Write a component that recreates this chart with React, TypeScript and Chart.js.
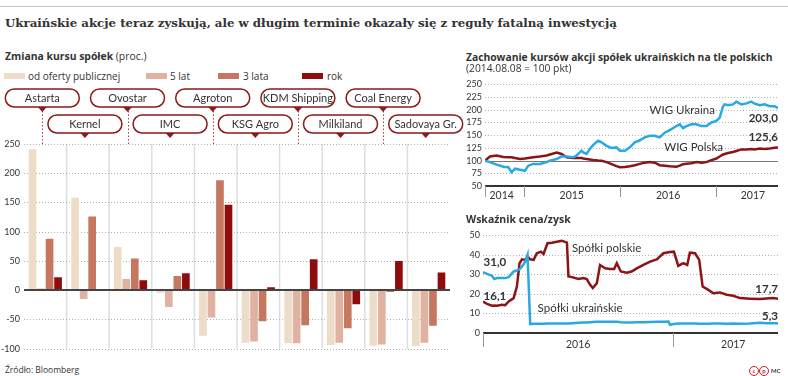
import React, { useEffect, useRef } from 'react';
import { Chart, registerables } from 'chart.js';

Chart.register(...registerables);

// ---------------- data ----------------
const companies = ['Astarta', 'Kernel', 'Ovostar', 'IMC', 'Agroton', 'KSG Agro', 'KDM Shipping', 'Milkiland', 'Coal Energy', 'Sadovaya Gr.'];
const seriesNames = ['od oferty publicznej', '5 lat', '3 lata', 'rok'];
const sinceIpo = [241, 158, 74, -5, -78, -90, -91, -94, -95, -96];
const fiveYears = [3, -15, 19, -29, -47, -88, -91, -90, -93, -90];
const threeYears = [88, 126, 54, 24, 188, -53, -60, -65, -3, -61];
const oneYear = [22, 1, 17, 29, 146, 5, 53, -24, 50, 30];
const barTicks = [250, 200, 150, 100, 50, 0, -50, -100];

const wigDates = [
  2014.600, 2014.652, 2014.721, 2014.790, 2014.842, 2014.876, 2014.911, 2014.963, 2015.015, 2015.049,
  2015.101, 2015.170, 2015.239, 2015.274, 2015.343, 2015.394, 2015.446, 2015.515, 2015.550, 2015.602,
  2015.619, 2015.654, 2015.688, 2015.723, 2015.774, 2015.809, 2015.861, 2015.913, 2015.964, 2015.999,
  2016.051, 2016.103, 2016.154, 2016.206, 2016.258, 2016.310, 2016.362, 2016.413, 2016.465, 2016.517,
  2016.586, 2016.621, 2016.655, 2016.690, 2016.742, 2016.793, 2016.845, 2016.897, 2016.949, 2017.001,
  2017.035, 2017.070, 2017.087, 2017.122, 2017.173, 2017.208, 2017.260, 2017.312, 2017.363, 2017.398,
  2017.450, 2017.502, 2017.553, 2017.605, 2017.640,
];
const wigUkraina = [
  100, 97, 92, 88, 87, 77, 84, 82, 80, 90,
  93.5, 93.5, 97, 100, 103, 108, 108, 106.5, 110, 119.5,
  116, 113, 123, 131, 139, 136, 129, 125, 126, 119.5,
  119.5, 126, 136, 140, 145.6, 149, 149, 145.6, 155, 160,
  168, 171.6, 164, 168, 171.6, 171.6, 168, 168, 175, 178,
  184.6, 207, 210.7, 209, 210.7, 216, 210.7, 212.6, 216, 212,
  209, 210.7, 207, 207, 203,
];
const wigPolska = [
  100, 108, 110, 107, 106.5, 106.5, 105, 103, 104, 105,
  106.5, 108, 110, 112, 116, 113, 106.5, 105, 105, 105,
  104, 103, 102, 101, 100, 99.5, 97, 93, 89, 87,
  87.5, 89, 91, 93.5, 96, 97, 96, 91, 90, 89,
  88, 90, 93, 94, 95, 97, 96, 97, 101, 104,
  108, 112, 113, 115, 117, 119, 122, 122, 123, 122,
  124, 123, 124, 125.5, 125.6,
];
const wigTicks = [50, 75, 100, 125, 150, 175, 200, 225, 250];
const wigYearBounds = [2014.6, 2015, 2016, 2017];
const wigYearLabels = ['2014', '2015', '2016', '2017'];
const wigYearLabelPos = [2014.773, 2015.5, 2016.5, 2017.38];

const peDates = [
  2016.000, 2016.021, 2016.047, 2016.059, 2016.073, 2016.100, 2016.117, 2016.135, 2016.161, 2016.178,
  2016.192, 2016.205, 2016.222, 2016.234, 2016.248, 2016.266, 2016.283, 2016.304, 2016.318, 2016.339,
  2016.362, 2016.388, 2016.414, 2016.441, 2016.449, 2016.467, 2016.502, 2016.528, 2016.545, 2016.563,
  2016.577, 2016.598, 2016.615, 2016.642, 2016.668, 2016.689, 2016.703, 2016.724, 2016.755, 2016.781,
  2016.808, 2016.843, 2016.878, 2016.913, 2016.948, 2016.974, 2016.983, 2017.003, 2017.026, 2017.052,
  2017.073, 2017.087, 2017.114, 2017.136, 2017.154, 2017.184, 2017.210, 2017.245, 2017.280, 2017.315,
  2017.350, 2017.402, 2017.455, 2017.490, 2017.524, 2017.551,
];
const peUkrainskie = [
  31.0, 30.2, 29.2, 27.5, 28, 28, 28, 28.5, 31.4, 31.9,
  32.5, 33.9, 36.4, 39.8, 4.5, 4.7, 4.7, 4.7, 4.7, 4.8,
  4.8, 4.8, 4.9, 4.9, 4.9, 5.0, 5.2, 5.3, 5.4, 5.5,
  5.6, 5.7, 5.8, 5.8, 5.7, 5.7, 5.8, 5.5, 5.4, 5.4,
  5.5, 5.5, 5.6, 5.7, 5.8, 5.9, 4.2, 4.6, 4.8, 4.8,
  4.8, 4.8, 4.8, 4.7, 4.7, 4.7, 4.8, 4.8, 4.7, 4.8,
  4.7, 4.8, 5.2, 5.0, 5.0, 5.0,
];
const pePolskie = [
  16.0, 14.9, 13.9, 14.0, 13.9, 14.4, 14.2, 16.1, 17.8, 23.7,
  35.6, 37.6, 37.3, 39, 37.6, 37.3, 40.7, 41.5, 40.3, 45.8,
  46.1, 46.6, 47.1, 46.1, 28.8, 28.5, 27.6, 28, 27.5, 24.6,
  22.9, 25.4, 34.7, 33, 32.7, 32.7, 35.6, 31.4, 30.8, 31.4,
  33, 34.7, 36.4, 37.6, 40.7, 41.2, 41.3, 41.5, 34.2, 35.6,
  34.7, 41, 40.7, 37.3, 23.7, 22, 20.3, 20.7, 19.5, 19,
  17.8, 17.5, 17.3, 17.6, 17.8, 17.5,
];
const peTicks = [0, 10, 20, 30, 40, 50];
const peYearBounds = [2016, 2017];
const peYearLabels = ['2016', '2017'];
const peYearLabelPos = [2016.5, 2017.315];

// ---------------- styles ----------------
const SANS = 'Lato, "Open Sans", sans-serif';
const TEXT = '"Open Sans", Lato, sans-serif';
const INK = '#333333';
const BAR_COLORS = ['#eddcc8', '#dfb2a1', '#c5775f', '#8e0c0c'];
const BLUE = '#2aa9e0';
const RED = '#8b1515';
const CALLOUT = '#8b1a1a';

const pts = (xs: number[], ys: number[]) => xs.map((x, i) => ({ x, y: ys[i] }));

const barDecor = {
  id: 'barDecor',
  beforeDatasetsDraw(chart: any) {
    const { ctx, chartArea: a, scales } = chart;
    const x = scales.x, y = scales.y;
    ctx.save();
    ctx.strokeStyle = '#dedede';
    ctx.lineWidth = 1.5;
    for (let i = 0; i < companies.length - 1; i++) {
      const px = (x.getPixelForValue(i) + x.getPixelForValue(i + 1)) / 2;
      ctx.beginPath();
      ctx.moveTo(px, a.top);
      ctx.lineTo(px, a.bottom);
      ctx.stroke();
    }
    ctx.strokeStyle = '#b0b0b0';
    ctx.lineWidth = 1;
    ctx.setLineDash([1, 2]);
    barTicks.filter((v) => v !== 0).forEach((v) => {
      const py = Math.round(y.getPixelForValue(v)) + 0.5;
      ctx.beginPath();
      ctx.moveTo(a.left, py);
      ctx.lineTo(a.right, py);
      ctx.stroke();
    });
    ctx.restore();
  },
  afterDatasetsDraw(chart: any) {
    const { ctx, chartArea: a, scales } = chart;
    const x = scales.x, y = scales.y;
    ctx.save();
    const zy = Math.round(y.getPixelForValue(0));
    ctx.strokeStyle = '#444';
    ctx.lineWidth = 2;
    ctx.beginPath();
    ctx.moveTo(a.left, zy);
    ctx.lineTo(a.right, zy);
    ctx.stroke();

    const boxW = 74, boxH = 18;
    companies.forEach((name, i) => {
      const cx = x.getPixelForValue(i) - 3;
      const row = i % 2;
      const top = a.top - (row === 0 ? 55 : 29);
      const bottom = top + boxH;
      if (row === 0) {
        ctx.setLineDash([1.5, 2]);
        ctx.strokeStyle = '#b04040';
        ctx.lineWidth = 1;
        ctx.beginPath();
        ctx.moveTo(Math.round(cx) + 0.5, bottom + 4);
        ctx.lineTo(Math.round(cx) + 0.5, a.top);
        ctx.stroke();
      }
      ctx.setLineDash([]);
      ctx.fillStyle = '#fff';
      ctx.strokeStyle = CALLOUT;
      ctx.lineWidth = 1.5;
      ctx.beginPath();
      ctx.roundRect(cx - boxW / 2, top, boxW, boxH, 9);
      ctx.fill();
      ctx.stroke();
      ctx.fillStyle = CALLOUT;
      ctx.beginPath();
      ctx.moveTo(cx - 4.5, bottom);
      ctx.lineTo(cx + 4.5, bottom);
      ctx.lineTo(cx, bottom + 5);
      ctx.closePath();
      ctx.fill();
      ctx.fillStyle = INK;
      ctx.font = `11px ${SANS}`;
      ctx.textAlign = 'center';
      ctx.textBaseline = 'middle';
      ctx.fillText(name, cx, top + boxH / 2 + 0.5);
    });
    ctx.restore();
  },
};

function lineDecor(
  dotted: number[],
  refLine: number | null,
  bounds: number[],
  yearLabels: string[],
  yearPos: number[],
  tickLen: number,
  labelOffset: number,
  notes: { text: string; x: number; y: number; align: CanvasTextAlign; bold: boolean }[],
) {
  return {
    id: 'lineDecor',
    beforeDatasetsDraw(chart: any) {
      const { ctx, chartArea: a, scales } = chart;
      const y = scales.y;
      ctx.save();
      ctx.strokeStyle = '#b0b0b0';
      ctx.lineWidth = 1;
      ctx.setLineDash([1, 2]);
      dotted.forEach((v) => {
        const py = Math.round(y.getPixelForValue(v)) + 0.5;
        ctx.beginPath();
        ctx.moveTo(a.left, py);
        ctx.lineTo(a.right, py);
        ctx.stroke();
      });
      ctx.setLineDash([]);
      if (refLine !== null) {
        const py = Math.round(y.getPixelForValue(refLine)) + 0.5;
        ctx.strokeStyle = '#777';
        ctx.beginPath();
        ctx.moveTo(a.left, py);
        ctx.lineTo(a.right, py);
        ctx.stroke();
      }
      ctx.restore();
    },
    afterDatasetsDraw(chart: any) {
      const { ctx, chartArea: a, scales } = chart;
      const x = scales.x, y = scales.y;
      ctx.save();
      ctx.strokeStyle = '#333';
      ctx.lineWidth = 2;
      ctx.beginPath();
      ctx.moveTo(a.left, a.bottom);
      ctx.lineTo(a.right, a.bottom);
      ctx.stroke();
      ctx.strokeStyle = '#999';
      ctx.lineWidth = 1;
      bounds.forEach((b) => {
        const px = Math.round(x.getPixelForValue(b)) + 0.5;
        ctx.beginPath();
        ctx.moveTo(px, a.bottom);
        ctx.lineTo(px, a.bottom + tickLen);
        ctx.stroke();
      });
      ctx.fillStyle = INK;
      ctx.font = `10.5px ${SANS}`;
      ctx.textAlign = 'center';
      ctx.textBaseline = 'middle';
      yearLabels.forEach((l, i) => ctx.fillText(l, x.getPixelForValue(yearPos[i]), a.bottom + labelOffset));
      notes.forEach((n) => {
        ctx.font = `${n.bold ? 'bold ' : ''}11.5px ${SANS}`;
        ctx.textAlign = n.align;
        ctx.textBaseline = 'middle';
        ctx.fillText(n.text, x.getPixelForValue(n.x), y.getPixelForValue(n.y));
      });
      ctx.restore();
    },
  };
}

function lineOptions(xMin: number, xMax: number, yMin: number, yMax: number, step: number, yWidth: number, padding: any) {
  return {
    animation: false,
    responsive: false,
    maintainAspectRatio: false,
    layout: { padding },
    plugins: { legend: { display: false }, tooltip: { enabled: false } },
    elements: { point: { radius: 0 }, line: { tension: 0, borderWidth: 2.5 } },
    scales: {
      x: { type: 'linear', min: xMin, max: xMax, display: false },
      y: {
        min: yMin,
        max: yMax,
        ticks: { stepSize: step, autoSkip: false, font: { family: SANS, size: 9 }, color: INK, padding: 3 },
        grid: { display: false, drawTicks: false },
        border: { display: false },
        afterFit: (s: any) => { s.width = yWidth; },
      },
    },
  };
}

export default function App() {
  const barRef = useRef<HTMLCanvasElement>(null);
  const wigRef = useRef<HTMLCanvasElement>(null);
  const peRef = useRef<HTMLCanvasElement>(null);

  useEffect(() => {
    const charts: Chart[] = [];
    const barData = [sinceIpo, fiveYears, threeYears, oneYear];
    charts.push(new Chart(barRef.current as HTMLCanvasElement, {
      type: 'bar',
      data: {
        labels: companies,
        datasets: barData.map((d, i) => ({
          label: seriesNames[i],
          data: d,
          backgroundColor: BAR_COLORS[i],
          borderWidth: 0,
          categoryPercentage: 0.8,
          barPercentage: 0.9,
        })),
      },
      options: {
        animation: false,
        responsive: false,
        maintainAspectRatio: false,
        layout: { padding: { top: 60, bottom: 7, left: 0, right: 15 } },
        plugins: { legend: { display: false }, tooltip: { enabled: false } },
        scales: {
          x: { display: false },
          y: {
            min: -100,
            max: 250,
            ticks: { stepSize: 50, autoSkip: false, font: { family: SANS, size: 9 }, color: INK, padding: 4 },
            grid: { display: false, drawTicks: false },
            border: { display: false },
            afterFit: (s: any) => { s.width = 24; },
          },
        },
      } as any,
      plugins: [barDecor],
    }));

    charts.push(new Chart(wigRef.current as HTMLCanvasElement, {
      type: 'line',
      data: {
        datasets: [
          { label: 'WIG Ukraina', data: pts(wigDates, wigUkraina), borderColor: BLUE },
          { label: 'WIG Polska', data: pts(wigDates, wigPolska), borderColor: RED },
        ],
      },
      options: lineOptions(2014.6, 2017.64, 50, 250, 25, 30, { top: 8, bottom: 18, left: 0, right: 10 }) as any,
      plugins: [lineDecor(
        wigTicks.filter((v) => v !== 50 && v !== 100), 100, wigYearBounds, wigYearLabels, wigYearLabelPos, 11, 9.5,
        [
          { text: 'WIG Ukraina', x: 2016.986, y: 198.4, align: 'right', bold: false },
          { text: '203,0', x: 2017.64, y: 182.8, align: 'right', bold: true },
          { text: '125,6', x: 2017.64, y: 146, align: 'right', bold: true },
          { text: 'WIG Polska', x: 2017.07, y: 126.8, align: 'right', bold: false },
        ],
      )],
    }));

    charts.push(new Chart(peRef.current as HTMLCanvasElement, {
      type: 'line',
      data: {
        datasets: [
          { label: 'Spółki ukraińskie', data: pts(peDates, peUkrainskie), borderColor: BLUE },
          { label: 'Spółki polskie', data: pts(peDates, pePolskie), borderColor: RED },
        ],
      },
      options: lineOptions(2016.0, 2017.55, 0, 50, 10, 28, { top: 9, bottom: 23, left: 0, right: 10 }) as any,
      plugins: [lineDecor(
        peTicks.filter((v) => v !== 0), null, peYearBounds, peYearLabels, peYearLabelPos, 14, 12,
        [
          { text: '31,0', x: 2016.003, y: 35.9, align: 'left', bold: true },
          { text: '16,1', x: 2016.003, y: 18.6, align: 'left', bold: true },
          { text: 'Spółki polskie', x: 2016.467, y: 43.2, align: 'left', bold: false },
          { text: 'Spółki ukraińskie', x: 2016.287, y: 12.7, align: 'left', bold: false },
          { text: '17,7', x: 2017.55, y: 22.4, align: 'right', bold: true },
          { text: '5,3', x: 2017.55, y: 8.4, align: 'right', bold: true },
        ],
      )],
    }));

    return () => charts.forEach((c) => c.destroy());
  }, []);

  const txt = (extra: React.CSSProperties): React.CSSProperties => ({
    position: 'absolute', whiteSpace: 'nowrap', lineHeight: 1, color: INK, fontFamily: TEXT, ...extra,
  });
  const legendX = [{ sw: 4, tx: 28 }, { sw: 146, tx: 170 }, { sw: 218, tx: 243 }, { sw: 302, tx: 327 }];
  const badge: React.CSSProperties = {
    position: 'absolute', top: 366, width: 8, height: 8, borderRadius: '50%', border: '1.2px solid #c81e1e',
    color: '#c81e1e', fontSize: 6, lineHeight: '8px', textAlign: 'center', fontFamily: SANS, fontWeight: 'bold',
  };

  return (
    <div style={{ position: 'absolute', left: 0, top: 0, width: 788, height: 376, background: '#fff', overflow: 'hidden' }}>
      <div style={{ position: 'absolute', left: 0, top: 6, width: 788, height: 1, background: '#c8c8c8' }} />
      <div style={txt({ left: 5, top: 17.6, fontSize: 11.8, fontWeight: 'bold', fontFamily: '"DejaVu Serif", serif' })}>
        Ukraińskie akcje teraz zyskują, ale w długim terminie okazały się z reguły fatalną inwestycją
      </div>
      <div style={txt({ left: 5, top: 50.7, fontSize: 10.4 })}>
        <b>Zmiana kursu spółek</b> (proc.)
      </div>
      {seriesNames.map((n, i) => (
        <React.Fragment key={n}>
          <div style={{ position: 'absolute', left: legendX[i].sw, top: 72.5, width: 21, height: 6.5, background: BAR_COLORS[i] }} />
          <div style={txt({ left: legendX[i].tx, top: 70.6, fontSize: 10 })}>{n}</div>
        </React.Fragment>
      ))}
      <canvas ref={barRef} width={465} height={274} style={{ position: 'absolute', left: 0, top: 84, width: 465, height: 274 }} />

      <div style={txt({ left: 466, top: 51.6, fontSize: 10.3, fontWeight: 'bold' })}>
        Zachowanie kursów akcji spółek ukraińskich na tle polskich
      </div>
      <div style={txt({ left: 466, top: 62.6, fontSize: 10.3 })}>(2014.08.08 = 100 pkt)</div>
      <canvas ref={wigRef} width={333} height={128} style={{ position: 'absolute', left: 455, top: 76, width: 333, height: 128 }} />

      <div style={txt({ left: 466, top: 214.2, fontSize: 10.5, fontWeight: 'bold' })}>Wskaźnik cena/zysk</div>
      <canvas ref={peRef} width={333} height={130} style={{ position: 'absolute', left: 455, top: 226, width: 333, height: 130 }} />

      <div style={txt({ left: 5, top: 366, fontSize: 8.5 })}>Źródło: Bloomberg</div>
      <div style={{ ...badge, left: 749 }}>c</div>
      <div style={{ ...badge, left: 759 }}>p</div>
      <div style={txt({ left: 771, top: 368, fontSize: 6, fontWeight: 'bold', fontFamily: SANS })}>MC</div>
    </div>
  );
}
